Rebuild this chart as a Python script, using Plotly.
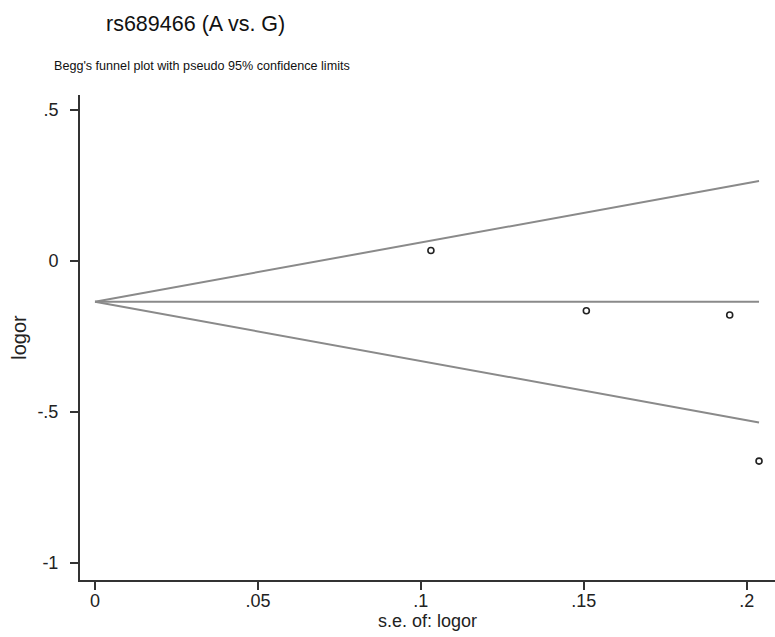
import plotly.graph_objects as go

# study data
se_logor = [0.1031, 0.1508, 0.1948, 0.2038]
logor = [0.035, -0.165, -0.179, -0.663]

# pooled estimate line and pseudo 95% limits (endpoints)
line_se = [0.0, 0.2038]
pooled = [-0.135, -0.135]
upper_limit = [-0.135, 0.265]
lower_limit = [-0.135, -0.535]

x_tickvals = [0, 0.05, 0.1, 0.15, 0.2]
x_ticktext = ["0", ".05", ".1", ".15", ".2"]
y_tickvals = [0.5, 0, -0.5, -1]
y_ticktext = [".5", "0", "-.5", "-1"]

line_style = dict(color="#8a8a8a", width=2)

fig = go.Figure()
fig.add_trace(go.Scatter(x=line_se, y=upper_limit, mode="lines", line=line_style, showlegend=False))
fig.add_trace(go.Scatter(x=line_se, y=lower_limit, mode="lines", line=line_style, showlegend=False))
fig.add_trace(go.Scatter(x=line_se, y=pooled, mode="lines", line=line_style, showlegend=False))
fig.add_trace(go.Scatter(x=se_logor, y=logor, mode="markers",
                         marker=dict(symbol="circle-open", size=6, color="#222222", line=dict(width=1.6)),
                         showlegend=False))

font_family = "Liberation Sans, Arial, sans-serif"

L, R, T, B, W, H = 80, 0, 95, 57, 775, 637
PW, PH = W - L - R, H - T - B

fig.update_layout(
    width=W, height=H,
    margin=dict(l=L, r=R, t=T, b=B),
    paper_bgcolor="white", plot_bgcolor="white",
    font=dict(family=font_family, color="#222222"),
)
fig.add_annotation(text="rs689466 (A vs. G)", xref="paper", yref="paper",
                   x=(195 - L) / PW, y=1 + (T - 24) / PH, xanchor="center", yanchor="middle",
                   showarrow=False, font=dict(size=21.5, color="#111111"))
fig.add_annotation(text="Begg's funnel plot with pseudo 95% confidence limits", xref="paper", yref="paper",
                   x=(52 - L) / PW, y=1 + (T - 66) / PH, xanchor="left", yanchor="middle",
                   showarrow=False, font=dict(size=12.6, color="#111111"))

fig.update_xaxes(
    range=[-0.0046, 0.2087], tickvals=x_tickvals, ticktext=x_ticktext,
    showline=True, linecolor="#333333", linewidth=2, mirror=False,
    ticks="outside", ticklen=8, tickwidth=1.5, tickcolor="#333333",
    showgrid=False, zeroline=False,
    tickfont=dict(size=18, color="#222222"),
    ticklabelstandoff=-5,
    title=dict(text="s.e. of: logor", font=dict(size=18, color="#222222"), standoff=0),
)
fig.update_yaxes(
    range=[-1.057, 0.55], tickvals=y_tickvals, ticktext=y_ticktext,
    showline=True, linecolor="#333333", linewidth=2, mirror=False,
    ticks="outside", ticklen=8, tickwidth=1.5, tickcolor="#333333",
    showgrid=False, zeroline=False,
    tickfont=dict(size=18, color="#222222"),
    ticklabelstandoff=8,
    title=dict(text="logor", font=dict(size=20, color="#222222"), standoff=5),
)

fig.write_html("out.html", config={"displayModeBar": False},
               post_script="document.body.style.margin='0';document.body.style.overflow='hidden';")
